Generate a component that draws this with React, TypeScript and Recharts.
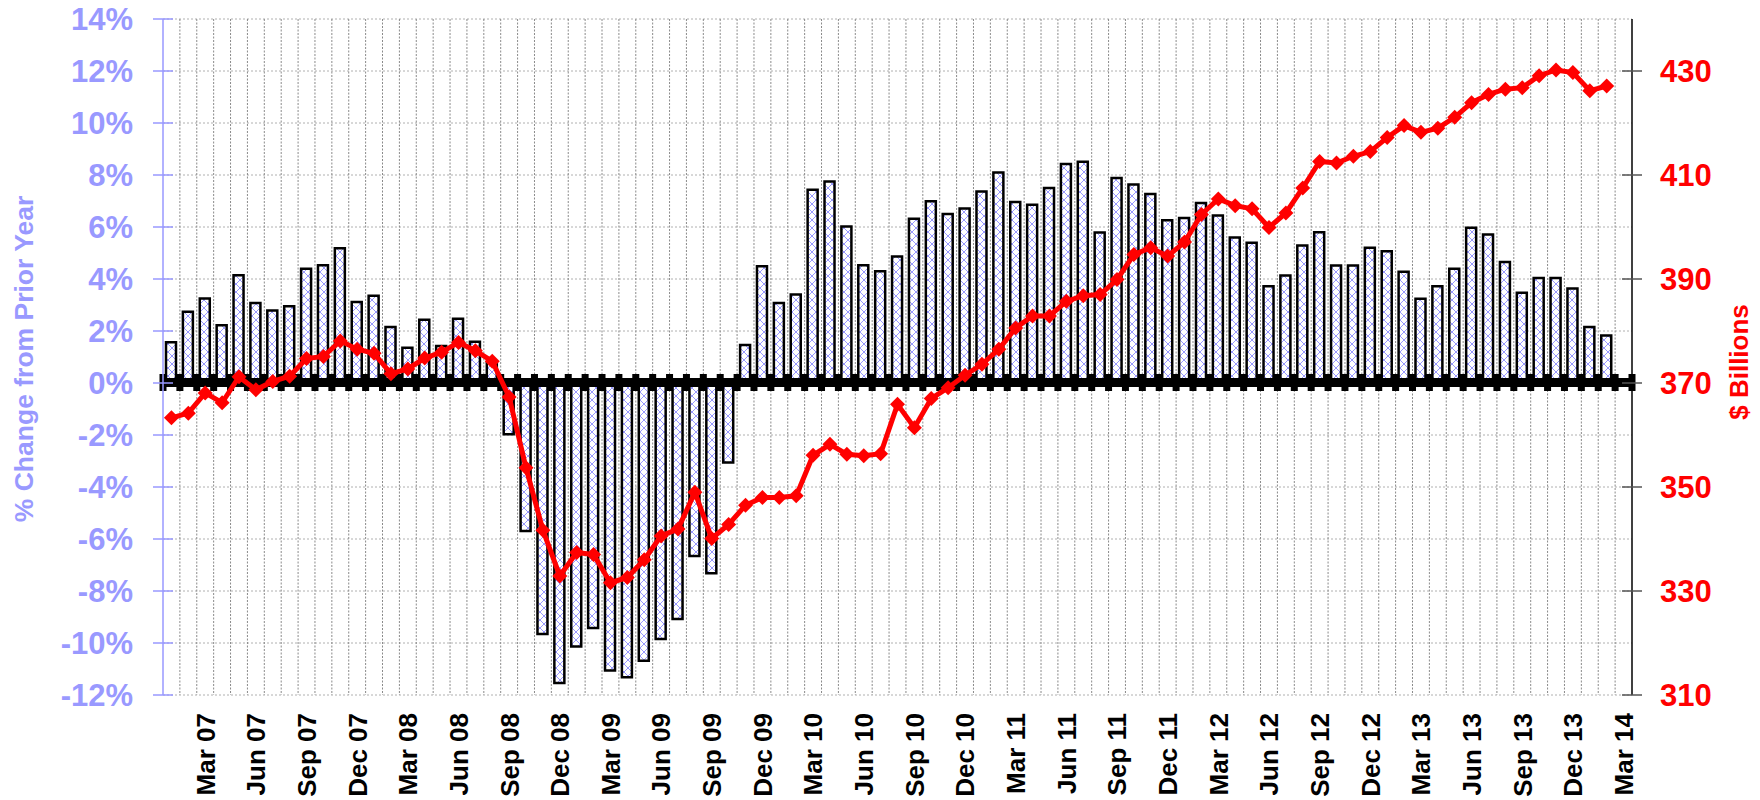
import React from 'react';
import {
  ComposedChart, Bar, Line, XAxis, YAxis, CartesianGrid, ReferenceLine
} from 'recharts';

const MONTH_NAMES = ['Jan', 'Feb', 'Mar', 'Apr', 'May', 'Jun', 'Jul', 'Aug', 'Sep', 'Oct', 'Nov', 'Dec'];
const YEARS = ['07', '08', '09', '10', '11', '12', '13', '14'];
// Jan 07 .. Mar 14
const MONTHS = YEARS.flatMap(y => MONTH_NAMES.map(m => `${m} ${y}`)).slice(0, 87);

const QUARTER_TICKS = [
  'Mar 07', 'Jun 07', 'Sep 07', 'Dec 07', 'Mar 08', 'Jun 08', 'Sep 08', 'Dec 08',
  'Mar 09', 'Jun 09', 'Sep 09', 'Dec 09', 'Mar 10', 'Jun 10', 'Sep 10', 'Dec 10',
  'Mar 11', 'Jun 11', 'Sep 11', 'Dec 11', 'Mar 12', 'Jun 12', 'Sep 12', 'Dec 12',
  'Mar 13', 'Jun 13', 'Sep 13', 'Dec 13', 'Mar 14',
];

// % change from prior year (bars), Jan 07 .. Feb 14
const PCT_CHANGE = [
  1.57, 2.74, 3.25, 2.22, 4.14, 3.08, 2.79, 2.95, 4.39, 4.53, 5.18, 3.12,
  3.36, 2.15, 1.36, 2.43, 1.42, 2.47, 1.59, 0.8, -1.97, -5.69, -9.65, -11.54,
  -10.13, -9.42, -11.06, -11.32, -10.68, -9.85, -9.08, -6.65, -7.32, -3.06, 1.46, 4.49,
  3.08, 3.40, 7.43, 7.75, 6.02, 4.53, 4.30, 4.87, 6.32, 6.99, 6.50, 6.71,
  7.37, 8.10, 6.96, 6.86, 7.50, 8.42, 8.51, 5.79, 7.88, 7.63, 7.27, 6.26,
  6.35, 6.92, 6.44, 5.60, 5.39, 3.72, 4.13, 5.29, 5.80, 4.52, 4.52, 5.20,
  5.07, 4.28, 3.24, 3.72, 4.39, 5.97, 5.71, 4.65, 3.47, 4.04, 4.04, 3.63,
  2.15, 1.83,
];

// $ billions (line), Jan 07 .. Feb 14
const BILLIONS = [
  363.3, 364.2, 368.1, 366.2, 371.2, 368.7, 370.3, 371.3, 374.7, 375.1, 378.1, 376.5,
  375.7, 371.8, 372.7, 374.8, 375.9, 377.8, 376.2, 374.2, 367.3, 353.7, 341.7, 332.9,
  337.4, 337.0, 331.6, 332.6, 336.0, 340.6, 341.9, 349.0, 340.1, 342.8, 346.5, 348.0,
  348.0, 348.3, 356.1, 358.2, 356.3, 356.0, 356.4, 365.9, 361.4, 367.0, 369.1, 371.5,
  373.6, 376.5, 380.6, 382.9, 382.9, 385.7, 386.8, 387.0, 389.9, 394.7, 396.0, 394.4,
  397.1, 402.4, 405.4, 404.1, 403.5, 399.9, 402.7, 407.5, 412.6, 412.3, 413.6, 414.5,
  417.2, 419.5, 418.2, 419.0, 421.1, 423.9, 425.5, 426.5, 426.8, 429.1, 430.2, 429.7,
  426.2, 427.1,
];

const PCT_TICKS = [-12, -10, -8, -6, -4, -2, 0, 2, 4, 6, 8, 10, 12, 14];
const BIL_TICKS = [310, 330, 350, 370, 390, 410, 430];

const data = MONTHS.map((month, i) => ({
  month,
  pct: PCT_CHANGE[i] ?? null,
  bil: BILLIONS[i] ?? null,
}));

const FONT = '"Liberation Sans", Arial, sans-serif';
const LEFT_COLOR = '#9999FF';
const RED = '#FF0000';

const MonthTick = (props: any) => {
  const { x, y, payload } = props;
  return (
    <g transform={`translate(${x},${y + 18})`}>
      <text transform="rotate(-90)" textAnchor="end" dy="0.36em"
        fontFamily={FONT} fontWeight="bold" fontSize={26} fill="#000">
        {payload.value}
      </text>
    </g>
  );
};

// value tick with a tick mark crossing the axis line
const LeftTick = (props: any) => {
  const { x, y, payload } = props;
  return (
    <g>
      <line x1={x + 20} x2={x + 40} y1={y} y2={y} stroke={LEFT_COLOR} strokeWidth={1.5} />
      <text x={x} y={y} dy="0.36em" textAnchor="end" fontFamily={FONT} fontWeight="bold"
        fontSize={31} fill={LEFT_COLOR}>{`${payload.value}%`}</text>
    </g>
  );
};

const RightTick = (props: any) => {
  const { x, y, payload } = props;
  return (
    <g>
      <line x1={x - 38} x2={x - 18} y1={y} y2={y} stroke="#555" strokeWidth={1.5} />
      <text x={x} y={y} dy="0.36em" textAnchor="start" fontFamily={FONT} fontWeight="bold"
        fontSize={31} fill={RED}>{payload.value}</text>
    </g>
  );
};

const Diamond = (props: any) => {
  const { cx, cy, index } = props;
  if (cx == null || cy == null) return <g key={`d-${index}`} />;
  const r = 7.5;
  return (
    <path key={`d-${index}`} d={`M${cx},${cy - r}L${cx + r},${cy}L${cx},${cy + r}L${cx - r},${cy}Z`} fill={RED} />
  );
};

// thick category axis drawn at 0% with tick marks between months
const ZeroAxis = (props: any) => {
  const { x1, x2, y1 } = props;
  if (x1 == null) return null;
  const step = (x2 - x1) / MONTHS.length;
  return (
    <g>
      <rect x={x1} y={y1 - 5} width={x2 - x1} height={9} fill="#000" />
      {MONTHS.map((_, i) => (
        <rect key={i} x={x1 + (i + 1) * step - 3.5} y={y1 - 9} width={7} height={17} fill="#000" />
      ))}
      <rect x={x1 - 3.5} y={y1 - 9} width={7} height={17} fill="#000" />
    </g>
  );
};

const App: React.FC = () => {
  return (
    <div style={{ position: 'absolute', left: 0, top: 0, width: 1760, height: 800, background: '#fff' }}>
      <svg width={0} height={0} style={{ position: 'absolute' }}>
        <defs>
          <pattern id="hatch" width={8} height={8} patternUnits="userSpaceOnUse">
            <rect width={8} height={8} fill="#fff" />
            <path d="M0,0L8,8M8,0L0,8" stroke="#8c8cff" strokeWidth={0.9} />
          </pattern>
        </defs>
      </svg>
      <ComposedChart width={1760} height={800} data={data}
        margin={{ top: 19, right: 0, bottom: 0, left: 0 }} barCategoryGap="28%">
        <CartesianGrid yAxisId="left" vertical={false} stroke="#b0b0b0" strokeDasharray="2 2" />
        <CartesianGrid yAxisId="left" horizontal={false} stroke="#8a8a8a" strokeDasharray="2 1.5"
          verticalCoordinatesGenerator={({ offset }: any) =>
            MONTHS.map((_, i) => offset.left + (i + 1) * offset.width / MONTHS.length).slice(0, -1)} />
        <XAxis dataKey="month" ticks={QUARTER_TICKS} interval={0} height={105}
          axisLine={false} tickLine={false} tickSize={0} tickMargin={0} tick={<MonthTick />} />
        <YAxis yAxisId="left" orientation="left" width={163} domain={[-12, 14]} ticks={PCT_TICKS}
          allowDataOverflow
          axisLine={{ stroke: LEFT_COLOR, strokeWidth: 1.5 }} tickLine={false}
          tickSize={10} tickMargin={20} tick={<LeftTick />}
          label={{
            content: (p: any) => {
              const vb = p.viewBox;
              const cx = vb.x + 23;
              const cy = vb.y + vb.height / 2 + 2;
              return (
                <text transform={`translate(${cx},${cy}) rotate(-90)`} textAnchor="middle" dy="0.36em"
                  fontFamily={FONT} fontWeight="bold" fontSize={26.5} fill={LEFT_COLOR}>
                  % Change from Prior Year
                </text>
              );
            },
          }} />
        <YAxis yAxisId="right" orientation="right" width={128} domain={[310, 440]} ticks={BIL_TICKS}
          allowDataOverflow
          axisLine={{ stroke: '#000', strokeWidth: 1.5 }} tickLine={false}
          tickSize={10} tickMargin={18} tick={<RightTick />}
          label={{
            content: (p: any) => {
              const vb = p.viewBox;
              const cx = vb.x + 107;
              const cy = vb.y + vb.height / 2 + 5;
              return (
                <text transform={`translate(${cx},${cy}) rotate(-90)`} textAnchor="middle" dy="0.36em"
                  fontFamily={FONT} fontWeight="bold" fontSize={26} fill={RED}>
                  $ Billions
                </text>
              );
            },
          }} />
        <Bar yAxisId="left" dataKey="pct" fill="url(#hatch)" stroke="#000" strokeWidth={2.5}
          barSize={10} isAnimationActive={false} />
        <ReferenceLine yAxisId="left" y={0} shape={<ZeroAxis />} />
        <Line yAxisId="right" dataKey="bil" stroke={RED} strokeWidth={5} dot={Diamond}
          activeDot={false} isAnimationActive={false} />
      </ComposedChart>
    </div>
  );
};

export default App;
